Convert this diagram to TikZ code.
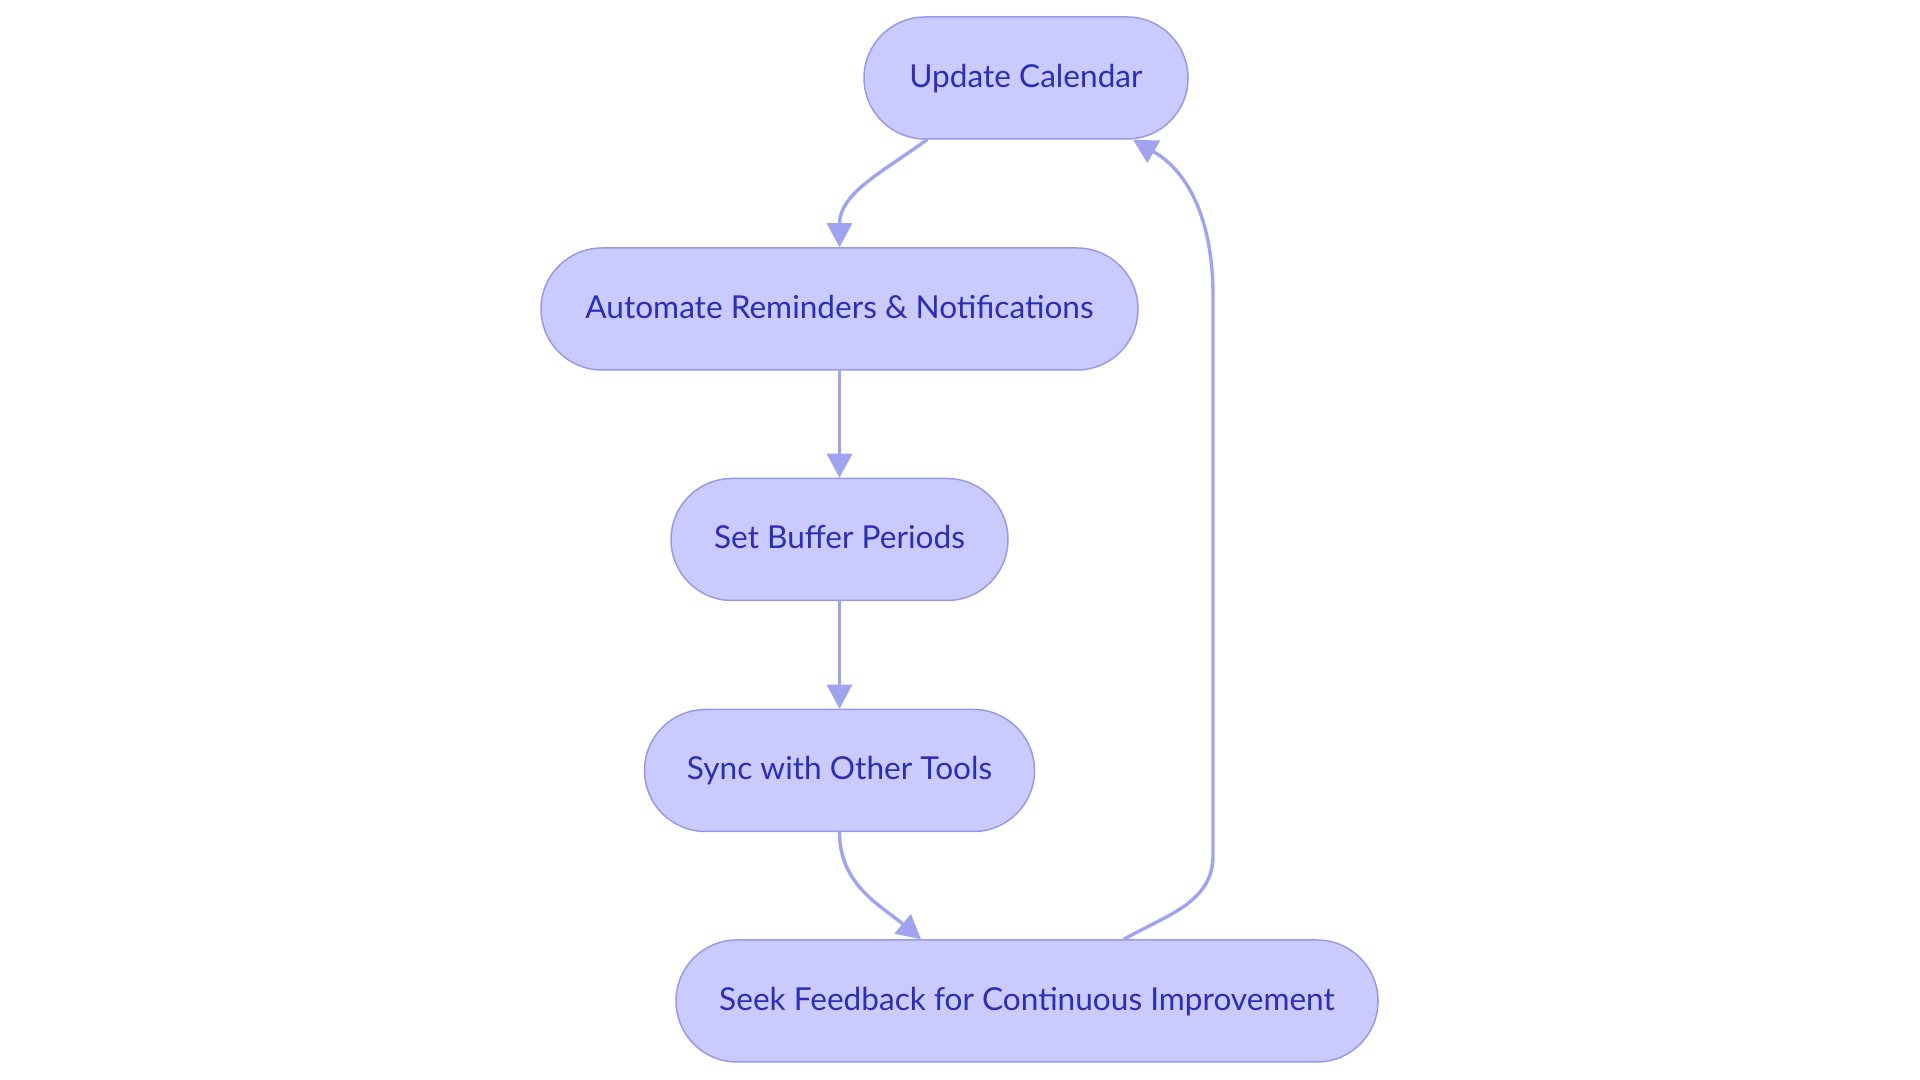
\documentclass[tikz,border=0pt]{standalone}
\usepackage{fontspec}
\setmainfont{Lato}
\usetikzlibrary{arrows.meta}
\usetikzlibrary{calc}
\definecolor{boxfill}{RGB}{201,203,255}
\definecolor{boxline}{RGB}{150,154,232}
\definecolor{boxtext}{RGB}{44,46,180}
\definecolor{flowcol}{RGB}{160,164,240}
\tikzset{
  stage/.style={rectangle, rounded corners=30.5pt, minimum height=61pt,
    fill=boxfill, draw=boxline, line width=0.75pt, text=boxtext,
    text height=1.1em, text depth=0.15em,
    font=\fontsize{15.8}{19}\selectfont},
  flow/.style={->, draw=flowcol, line width=1.7pt}
}

\begin{document}
\begin{tikzpicture}[line cap=round,line join=round,>={Triangle[length=12pt,width=12.5pt]},x=0.5pt,y=0.5pt]
\useasboundingbox (0,0) rectangle (1920,1080);
\node[stage, minimum width=162pt] (upd) at (1026,1002) {Update Calendar};
\node[stage, minimum width=298.5pt] (auto) at (839.5,771) {Automate Reminders \& Notifications};
\node[stage, minimum width=168.5pt] (buf) at (839.5,540.5) {Set Buffer Periods};
\node[stage, minimum width=195pt] (sync) at (839.5,309.5) {Sync with Other Tools};
\node[stage, minimum width=351pt] (seek) at (1027,79) {Seek Feedback for Continuous Improvement};
\coordinate (back) at (1213,540);
\draw[flow] ([xshift=-49.5pt]upd.south) to[out=216,in=90] (auto.north);
\draw[flow] (auto.south) -- (buf.north);
\draw[flow] (buf.south) -- (sync.north);
\draw[flow] (sync.south) to[out=-90,in=140] ([xshift=-53pt]seek.north);
\draw[flow] ([xshift=48.5pt]seek.north) to[out=30,in=-90] ([yshift=42pt]seek.north -| back)
  -- ([yshift=-78pt]upd.south -| back) to[out=90,in=-30] ([xshift=53.5pt]upd.south);
\end{tikzpicture}
\end{document}
